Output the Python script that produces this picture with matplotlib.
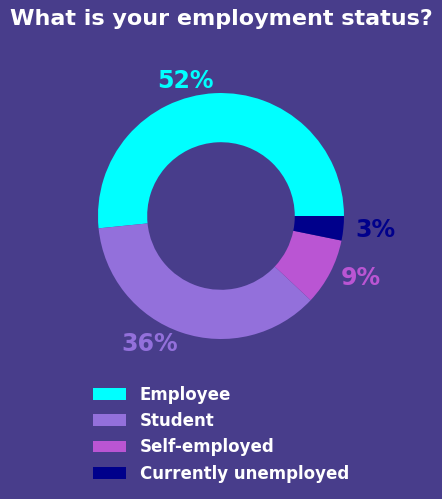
import matplotlib
matplotlib.use('Agg')
import matplotlib.pyplot as plt

categories = ['Employee', 'Student', 'Self-employed', 'Currently unemployed']
values = [51.6, 36.4, 8.8, 3.2]
pct_labels = ['52%', '36%', '9%', '3%']
colors = ['#00FFFF', '#9370DB', '#BA55D3', '#00008B']
bg = '#483D8B'

fig = plt.figure(figsize=(4.42, 4.99), dpi=100, facecolor=bg)
ax = fig.add_axes([0.1521, 0.259, 0.6957, 0.6162])
ax.set_facecolor(bg)

wedges, texts = ax.pie(values, labels=pct_labels, colors=colors, startangle=0,
                       counterclock=True, labeldistance=1.1,
                       wedgeprops=dict(width=0.4),
                       textprops=dict(fontsize=17, fontweight='bold'))
for t, c in zip(texts, colors):
    t.set_color(c)

fig.suptitle('What is your employment status?', color='white', fontsize=16,
             fontweight='bold', y=0.962, va='center')

leg = fig.legend(wedges, categories, loc='center', bbox_to_anchor=(0.5, 0.13),
                 frameon=False, prop=dict(size=12, weight='bold'),
                 labelspacing=0.5)
for t in leg.get_texts():
    t.set_color('white')

fig.savefig('out.png', dpi=100, facecolor=bg)
